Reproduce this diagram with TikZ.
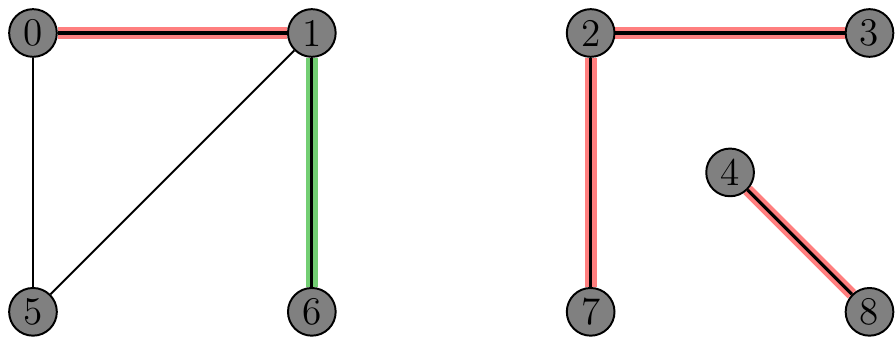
\documentclass[tikz,border=0pt]{standalone}
\usepackage{tikz}
\usetikzlibrary{positioning}

\begin{document}
\begin{tikzpicture}[x=3cm,y=3cm,
  vtx/.style={circle,draw=black,line width=0.6pt,fill=gray,inner sep=0pt,minimum size=14.6pt,font=\large},
  edg/.style={black,line width=0.6pt},
  redg/.style={red,opacity=0.5,line width=3.6pt},
  gedg/.style={green!65!black,opacity=0.55,line width=3.6pt},
  core/.style={black,line width=1pt}]

\useasboundingbox (-0.1183,-0.0897) rectangle (3.0950,1.1183);

\node[vtx] (n0) at (0,1) {0};
\node[vtx] (n1) at (1,1) {1};
\node[vtx] (n5) at (0,0) {5};
\node[vtx] (n6) at (1,0) {6};
\node[vtx] (n2) at (2,1) {2};
\node[vtx] (n3) at (3,1) {3};
\node[vtx] (n7) at (2,0) {7};
\node[vtx] (n4) at (2.5,0.5) {4};
\node[vtx] (n8) at (3,0) {8};

\draw[edg] (n0) -- (n5);
\draw[edg] (n1) -- (n5);
\draw[redg] (n0) -- (n1);
\draw[core] (n0) -- (n1);
\draw[gedg] (n1) -- (n6);
\draw[core] (n1) -- (n6);
\draw[redg] (n2) -- (n3);
\draw[core] (n2) -- (n3);
\draw[redg] (n2) -- (n7);
\draw[core] (n2) -- (n7);
\draw[redg] (n4) -- (n8);
\draw[core] (n4) -- (n8);
\end{tikzpicture}
\end{document}
